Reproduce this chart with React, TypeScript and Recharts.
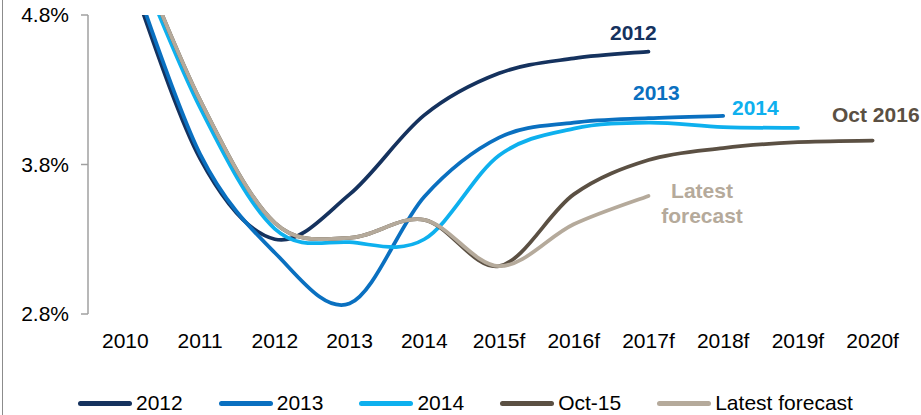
import React from 'react';
import { LineChart, Line, XAxis, YAxis } from 'recharts';

const years = ['2010', '2011', '2012', '2013', '2014', '2015f', '2016f', '2017f', '2018f', '2019f', '2020f'];
const s2012 = [5.15, 3.84, 3.3, 3.6, 4.13, 4.41, 4.51, 4.555];
const s2013 = [5.2, 3.87, 3.21, 2.87, 3.585, 3.98, 4.08, 4.11, 4.125];
const s2014 = [5.35, 4.18, 3.37, 3.28, 3.3, 3.86, 4.04, 4.08, 4.05, 4.045];
const sOct15 = [5.4, 4.23, 3.41, 3.31, 3.43, 3.12, 3.6, 3.83, 3.91, 3.95, 3.96];
const sLatest = [5.4, 4.23, 3.41, 3.31, 3.43, 3.12, 3.4, 3.59];
const yTicks = [2.8, 3.8, 4.8];

const series = [
  { key: 's2012', name: '2012', color: '#15325E', values: s2012 },
  { key: 's2013', name: '2013', color: '#0A70C0', values: s2013 },
  { key: 's2014', name: '2014', color: '#0EB0EE', values: s2014 },
  { key: 'sOct15', name: 'Oct-15', color: '#5B5043', values: sOct15 },
  { key: 'sLatest', name: 'Latest forecast', color: '#B5AA9B', values: sLatest },
];

const data = years.map((label, i) => {
  const row: any = { x: i, label };
  series.forEach((s) => {
    if (i < s.values.length) row[s.key] = s.values[i];
  });
  return row;
});

const boundaryTicks = years.map((_, i) => i - 0.5).concat([years.length - 0.5]);
const centerTicks = years.map((_, i) => i);

// Excel-like smoothed curve (Catmull-Rom converted to cubic Beziers)
const excelCurve: any = (context: any) => {
  let pts: number[][] = [];
  return {
    areaStart() {},
    areaEnd() {},
    lineStart() {
      pts = [];
    },
    point(x: number, y: number) {
      pts.push([+x, +y]);
    },
    lineEnd() {
      const n = pts.length;
      if (!n) return;
      context.moveTo(pts[0][0], pts[0][1]);
      for (let i = 0; i < n - 1; i++) {
        const p0 = pts[Math.max(0, i - 1)];
        const p1 = pts[i];
        const p2 = pts[i + 1];
        const p3 = pts[Math.min(n - 1, i + 2)];
        context.bezierCurveTo(
          p1[0] + (p2[0] - p0[0]) / 6,
          p1[1] + (p2[1] - p0[1]) / 6,
          p2[0] - (p3[0] - p1[0]) / 6,
          p2[1] - (p3[1] - p1[1]) / 6,
          p2[0],
          p2[1]
        );
      }
    },
  };
};

const FONT = '"Liberation Sans", Arial, sans-serif';
const axisGray = '#A0A0A0';

const annotations = [
  { text: '2012', color: '#15325E', left: 610, top: 21 },
  { text: '2013', color: '#0A70C0', left: 633, top: 81 },
  { text: '2014', color: '#0EB0EE', left: 732, top: 96 },
  { text: 'Oct 2016', color: '#5B5043', left: 832, top: 103 },
];

export default function App() {
  return (
    <div style={{ position: 'absolute', left: 0, top: 0, width: 921, height: 415, background: '#fff', overflow: 'hidden', fontFamily: FONT }}>
      <div style={{ position: 'absolute', left: 2, top: 0, width: 1, height: 415, background: '#8C8C8C' }} />
      <LineChart width={921} height={415} data={data} margin={{ top: 15, right: 11, bottom: 61, left: 0 }}>
        <XAxis
          xAxisId="grid"
          type="number"
          dataKey="x"
          domain={[-0.5, years.length - 0.5]}
          ticks={boundaryTicks}
          interval={0}
          height={0}
          tickSize={6}
          stroke={axisGray}
          strokeWidth={1.5}
          tickFormatter={() => ''}
          allowDataOverflow
        />
        <XAxis
          xAxisId="lab"
          type="number"
          dataKey="x"
          domain={[-0.5, years.length - 0.5]}
          ticks={centerTicks}
          interval={0}
          height={40}
          axisLine={false}
          tickLine={false}
          tickSize={0}
          tickMargin={19}
          tickFormatter={(v: number) => years[v]}
          tick={{ fill: '#000', fontSize: 21, fontFamily: FONT }}
          allowDataOverflow
        />
        <YAxis
          type="number"
          domain={[2.8, 4.8]}
          ticks={yTicks}
          interval={0}
          width={88}
          allowDataOverflow
          stroke={axisGray}
          strokeWidth={1.5}
          tickSize={7}
          tickMargin={12}
          tickFormatter={(v: number) => v.toFixed(1) + '%'}
          tick={{ fill: '#000', fontSize: 21, fontFamily: FONT }}
        />
        {series.map((s) => (
          <Line
            key={s.key}
            xAxisId="lab"
            dataKey={s.key}
            name={s.name}
            type={excelCurve}
            stroke={s.color}
            strokeWidth={3.75}
            strokeLinecap="round"
            dot={false}
            activeDot={false}
            isAnimationActive={false}
          />
        ))}
      </LineChart>
      {annotations.map((a) => (
        <div key={a.text} style={{ position: 'absolute', left: a.left, top: a.top, color: a.color, fontWeight: 'bold', fontSize: 21, lineHeight: '24px', whiteSpace: 'nowrap' }}>
          {a.text}
        </div>
      ))}
      <div style={{ position: 'absolute', left: 657, top: 178, width: 90, textAlign: 'center', color: '#B5AA9B', fontWeight: 'bold', fontSize: 21, lineHeight: '25px' }}>
        Latest
        <br />
        forecast
      </div>
      <div style={{ position: 'absolute', left: 78, top: 391, height: 24, display: 'flex', alignItems: 'center', fontSize: 21, color: '#000', whiteSpace: 'nowrap' }}>
        {series.map((s) => (
          <div key={s.key} style={{ display: 'flex', alignItems: 'center', marginRight: 36 }}>
            <div style={{ width: 54, height: 5, borderRadius: 3, background: s.color, marginRight: 4 }} />
            <span>{s.name}</span>
          </div>
        ))}
      </div>
    </div>
  );
}
